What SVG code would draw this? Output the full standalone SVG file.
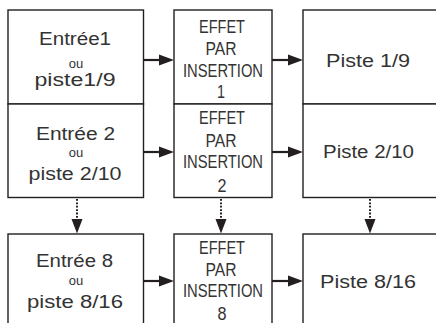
<svg xmlns="http://www.w3.org/2000/svg" width="436" height="323" viewBox="0 0 436 323">
<style>
.box{fill:#fff;stroke:#231f20;stroke-width:1.4}
.t{font-family:"Liberation Sans",Arial,sans-serif;font-size:18px;fill:#333;text-anchor:middle}
.s{font-family:"Liberation Sans",Arial,sans-serif;font-size:13px;fill:#333;text-anchor:middle}
.c{font-family:"Liberation Sans",Arial,sans-serif;font-size:18px;fill:#333;text-anchor:middle}
.ln{stroke:#231f20;stroke-width:2.2;fill:none}
.dot{stroke:#231f20;stroke-width:2;fill:none;stroke-dasharray:1.8 1.6}
.ah{fill:#231f20}
</style>
<rect width="436" height="323" fill="#fff"/>
<g id="connectors">
  <line class="ln" x1="144" y1="60" x2="161" y2="60"/><polygon class="ah" points="159,54.5 174,60 159,65.5"/>
  <line class="ln" x1="144" y1="152" x2="161" y2="152"/><polygon class="ah" points="159,146.5 174,152 159,157.5"/>
  <line class="ln" x1="144" y1="281" x2="161" y2="281"/><polygon class="ah" points="159,275.5 174,281 159,286.5"/>
  <line class="ln" x1="272" y1="60" x2="290" y2="60"/><polygon class="ah" points="288,54.5 303,60 288,65.5"/>
  <line class="ln" x1="272" y1="152" x2="290" y2="152"/><polygon class="ah" points="288,146.5 303,152 288,157.5"/>
  <line class="ln" x1="272" y1="281" x2="290" y2="281"/><polygon class="ah" points="288,275.5 303,281 288,286.5"/>
  <line class="dot" x1="77" y1="199" x2="77" y2="220"/><polygon class="ah" points="71.5,219 82.5,219 77,233.5"/>
  <line class="dot" x1="221" y1="199" x2="221" y2="220"/><polygon class="ah" points="215.5,219 226.5,219 221,233.5"/>
  <line class="dot" x1="370" y1="199" x2="370" y2="220"/><polygon class="ah" points="364.5,219 375.5,219 370,233.5"/>
</g>
<g id="in1">
  <rect class="box" x="8" y="10" width="135.5" height="94"/>
  <text class="t" x="75" y="45" textLength="72" lengthAdjust="spacingAndGlyphs">Entrée1</text>
  <text class="s" x="76" y="68">ou</text>
  <text class="t" x="75" y="86" textLength="81" lengthAdjust="spacingAndGlyphs">piste1/9</text>
</g>
<g id="in2">
  <rect class="box" x="8" y="104" width="135.5" height="93.5"/>
  <text class="t" x="75.5" y="140" textLength="79" lengthAdjust="spacingAndGlyphs">Entrée 2</text>
  <text class="s" x="76" y="157">ou</text>
  <text class="t" x="75" y="180" textLength="93" lengthAdjust="spacingAndGlyphs">piste 2/10</text>
</g>
<g id="in8">
  <rect class="box" x="8" y="234" width="135.5" height="100"/>
  <text class="t" x="74.5" y="267" textLength="77" lengthAdjust="spacingAndGlyphs">Entrée 8</text>
  <text class="s" x="76" y="285">ou</text>
  <text class="t" x="75" y="308" textLength="96" lengthAdjust="spacingAndGlyphs">piste 8/16</text>
</g>
<g id="fx1">
  <rect class="box" x="174" y="10" width="98" height="94"/>
  <text class="c" x="222" y="33" textLength="46" lengthAdjust="spacingAndGlyphs">EFFET</text>
  <text class="c" x="221" y="55" textLength="31" lengthAdjust="spacingAndGlyphs">PAR</text>
  <text class="c" x="223" y="77" textLength="80" lengthAdjust="spacingAndGlyphs">INSERTION</text>
  <text class="c" x="221" y="98" textLength="8" lengthAdjust="spacingAndGlyphs">1</text>
</g>
<g id="fx2">
  <rect class="box" x="174" y="104" width="98" height="93.5"/>
  <text class="c" x="222" y="124" textLength="46" lengthAdjust="spacingAndGlyphs">EFFET</text>
  <text class="c" x="221" y="147" textLength="31" lengthAdjust="spacingAndGlyphs">PAR</text>
  <text class="c" x="223" y="168" textLength="80" lengthAdjust="spacingAndGlyphs">INSERTION</text>
  <text class="c" x="222" y="192" textLength="9" lengthAdjust="spacingAndGlyphs">2</text>
</g>
<g id="fx8">
  <rect class="box" x="174" y="234" width="98" height="100"/>
  <text class="c" x="222" y="254" textLength="46" lengthAdjust="spacingAndGlyphs">EFFET</text>
  <text class="c" x="221" y="276" textLength="31" lengthAdjust="spacingAndGlyphs">PAR</text>
  <text class="c" x="223" y="297" textLength="80" lengthAdjust="spacingAndGlyphs">INSERTION</text>
  <text class="c" x="222" y="320" textLength="9" lengthAdjust="spacingAndGlyphs">8</text>
</g>
<g id="tr1">
  <rect class="box" x="303" y="10" width="140" height="94"/>
  <text class="t" x="368" y="67" textLength="84" lengthAdjust="spacingAndGlyphs">Piste 1/9</text>
</g>
<g id="tr2">
  <rect class="box" x="303" y="104" width="140" height="93.5"/>
  <text class="t" x="368.5" y="158" textLength="91" lengthAdjust="spacingAndGlyphs">Piste 2/10</text>
</g>
<g id="tr8">
  <rect class="box" x="303" y="234" width="140" height="100"/>
  <text class="t" x="368" y="288" textLength="96" lengthAdjust="spacingAndGlyphs">Piste 8/16</text>
</g>
</svg>
